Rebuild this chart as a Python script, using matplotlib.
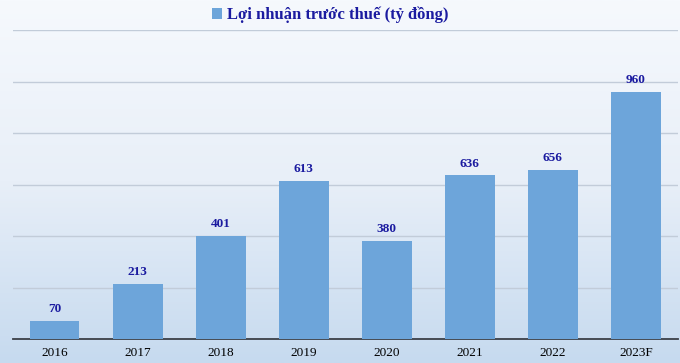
import matplotlib
matplotlib.use("Agg")
import matplotlib.pyplot as plt
import numpy as np
from matplotlib.colors import LinearSegmentedColormap

categories = ["2016", "2017", "2018", "2019", "2020", "2021", "2022", "2023F"]
values = [70, 213, 401, 613, 380, 636, 656, 960]
series_name = "Lợi nhuận trước thuế (tỷ đồng)"

plt.rcParams['font.family'] = ['Liberation Serif', 'DejaVu Serif']

fig = plt.figure(figsize=(6.8, 3.63), dpi=100)

# background gradient
bg = fig.add_axes([0, 0, 1, 1], zorder=-10)
cmap = LinearSegmentedColormap.from_list("bg", ["#F6F9FD", "#E8EFF8", "#C6DAEF"])
grad = np.linspace(0, 1, 256).reshape(-1, 1)
bg.imshow(grad, aspect='auto', cmap=cmap, extent=[0, 1, 0, 1], origin='upper')
bg.axis('off')

ax = fig.add_axes([13/680, 24/363, (677.5-13)/680, (339-30)/363])
ax.patch.set_alpha(0)
x = np.arange(len(categories))
ax.bar(x, values, width=0.6, color="#6DA5DA", zorder=3, label=series_name)
for xi, v in zip(x, values):
    ax.text(xi, v + 22, f"{v}", ha='center', va='bottom', fontsize=9.5,
            fontweight='bold', color="#1B1BA0", zorder=4)

ax.set_xlim(-0.5, len(categories) - 0.5)
ax.set_ylim(0, 1200)
ax.set_yticks(np.arange(200, 1201, 200))
ax.yaxis.grid(True, color="#C2CCD9", linewidth=1.0, zorder=0)
ax.tick_params(axis='y', left=False, labelleft=False)
ax.tick_params(axis='x', length=0, pad=6, labelsize=9.5)
ax.set_xticks(x)
ax.set_xticklabels(categories)
for s in ['top', 'right', 'left']:
    ax.spines[s].set_visible(False)
ax.spines['bottom'].set_color("#3A3F47")
ax.spines['bottom'].set_linewidth(1.3)

leg = fig.legend(loc='center', bbox_to_anchor=(0.485, 0.958), frameon=False,
                 prop={'weight': 'bold', 'size': 12}, handlelength=0.6,
                 handleheight=0.6, handletextpad=0.3)
for t in leg.get_texts():
    t.set_color("#1B1BA0")

fig.savefig("out.png", dpi=100)
